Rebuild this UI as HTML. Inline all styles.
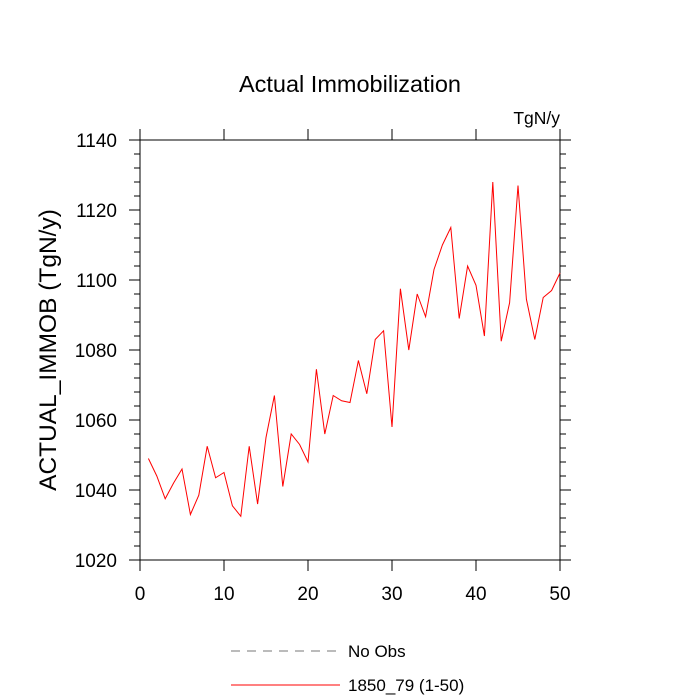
<!DOCTYPE html>
<html><head><meta charset="utf-8"><style>body{margin:0;background:#fff}svg{display:block}text{font-family:"Liberation Sans",sans-serif;fill:#000}</style></head>
<body>
<svg width="700" height="700" id="c">
<text x="350" y="92" font-size="23.5" text-anchor="middle">Actual Immobilization</text>
<text x="560" y="124" font-size="17.5" text-anchor="end">TgN/y</text>
<text transform="translate(56,350) rotate(-90)" font-size="24.5" text-anchor="middle">ACTUAL_IMMOB  (TgN/y)</text>
<g id="ax"></g>
<g id="plot"></g>
<g>
<line x1="231" y1="651" x2="340" y2="651" stroke="#777" stroke-dasharray="9,7"/>
<text x="348" y="657" font-size="17">No Obs</text>
<line x1="231" y1="685" x2="340" y2="685" stroke="red" stroke-width="1"/>
<text x="348" y="691" font-size="17">1850_79 (1-50)</text>
</g>
</svg>
<script>
const years=[1,2,3,4,5,6,7,8,9,10,11,12,13,14,15,16,17,18,19,20,21,22,23,24,25,26,27,28,29,30,31,32,33,34,35,36,37,38,39,40,41,42,43,44,45,46,47,48,49,50];
const values=[1049,1044,1037.5,1042,1046,1033,1038.5,1052.5,1043.5,1045,1035.5,1032.5,1052.5,1036,1055,1067,1041,1056,1053,1048,1074.5,1056,1067,1065.5,1065,1077,1067.5,1083,1085.5,1058,1097.5,1080,1096,1089.5,1103,1110,1115,1089,1104,1098.5,1084,1128,1082.5,1093.5,1127,1094.5,1083,1095,1097,1102];
const xTicks=[0,10,20,30,40,50];
const yTicks=[1020,1040,1060,1080,1100,1120,1140];
const L=140,R=560,T=140,B=560,xmin=0,xmax=50,ymin=1020,ymax=1140;
const X=v=>L+(v-xmin)/(xmax-xmin)*(R-L);
const Y=v=>B-(v-ymin)/(ymax-ymin)*(B-T);
const NS="http://www.w3.org/2000/svg";
const ax=document.getElementById('ax'),plot=document.getElementById('plot');
function mk(t,a,p){const e=document.createElementNS(NS,t);for(const k in a)e.setAttribute(k,a[k]);p.appendChild(e);return e;}
const fr=mk('rect',{x:L,y:T,width:R-L,height:B-T,fill:'none',stroke:'#000','stroke-width':1},ax);


xTicks.forEach(v=>{
 const x=X(v);
 mk('line',{x1:x,y1:B,x2:x,y2:B+11,stroke:'#000'},ax);
 mk('line',{x1:x,y1:T,x2:x,y2:T-11,stroke:'#000'},ax);
 const t=mk('text',{x:x,y:B+40,'font-size':19,'text-anchor':'middle'},ax);t.textContent=v;
 
 
});
for(let v=ymin;v<=ymax;v+=4){
 const y=Y(v),maj=(v-ymin)%20===0,len=maj?11:6;
 mk('line',{x1:L,y1:y,x2:L-len,y2:y,stroke:'#000'},ax);
 mk('line',{x1:R,y1:y,x2:R+len,y2:y,stroke:'#000'},ax);
}
yTicks.forEach(v=>{
 const t=mk('text',{x:L-23,y:Y(v)+7,'font-size':19,'text-anchor':'end'},ax);t.textContent=v;
 
 
});
const ln=mk('polyline',{points:years.map((x,i)=>X(x)+','+Y(values[i])).join(' '),fill:'none',stroke:'red','stroke-width':1},plot);


</script>
</body></html>
